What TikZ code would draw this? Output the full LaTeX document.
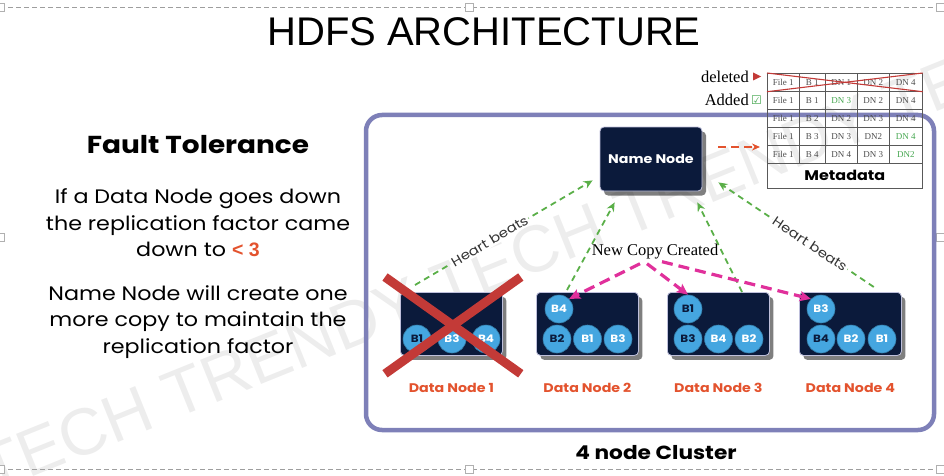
\documentclass[tikz,border=0pt]{standalone}
\usepackage{fontspec}
\setmainfont{Liberation Serif}
\newfontfamily\arialf{Liberation Sans}
\newfontfamily\gothf[FakeStretch=1.14]{Poppins}
\newfontfamily\symf{DejaVu Sans}
\usetikzlibrary{arrows.meta,shadows,calc}
\definecolor{navy}{HTML}{0B1A3B}
\definecolor{lav}{HTML}{7E80B8}
\definecolor{cblue}{HTML}{45A6E0}
\definecolor{hbgreen}{HTML}{5AAF48}
\definecolor{mag}{HTML}{E0309B}
\definecolor{ored}{HTML}{E3532E}
\definecolor{xred}{HTML}{C33A37}
\definecolor{dgreen}{HTML}{45A64F}
\definecolor{handle}{HTML}{B0B0B0}
\tikzset{
  dnbox/.style={rectangle, rounded corners=4pt, fill=navy, draw=lav!50!white, line width=0.8pt,
    minimum width=102pt, minimum height=63pt, inner sep=0pt,
    drop shadow={shadow xshift=4pt, shadow yshift=-4.5pt, opacity=0.5, fill=black}},
  nnbox/.style={dnbox, minimum width=102pt, minimum height=64pt, text=white,
    font=\gothf\bfseries\fontsize{12.5}{12.5}\selectfont},
  blk/.style={circle, fill=cblue, draw=cblue!75!black, line width=0.6pt, minimum size=28pt,
    inner sep=0pt, text=white, font=\gothf\bfseries\fontsize{10.5}{10.5}\selectfont},
  blkd/.style={blk, text=navy},
  hb/.style={draw=hbgreen, line width=1.8pt, dash pattern=on 6pt off 4.5pt,
    -{Stealth[length=9pt, width=8pt]}},
  hblabel/.style={sloped, fill=white, inner sep=1.5pt, text=black!80,
    font=\gothf\fontsize{13}{13}\selectfont},
  cp/.style={draw=mag, line width=3.2pt, dash pattern=on 11pt off 6pt,
    -{Stealth[length=11pt, width=10pt, inset=2pt]}},
  dnlabel/.style={text=ored, font=\gothf\bfseries\fontsize{12.5}{12.5}\selectfont},
  cell/.style={draw=black!65, line width=0.7pt, minimum height=18pt, inner sep=0pt,
    anchor=north west, text=black!70, font=\fontsize{9}{9}\selectfont},
  handlebox/.style={draw=handle, fill=white, line width=0.8pt, minimum size=8pt, inner sep=0pt},
}
\begin{document}
\begin{tikzpicture}[x=1pt,y=-1pt]
\useasboundingbox (0,0) rectangle (944,476);
% watermark
\begin{scope}
\clip (0,0) rectangle (944,476);
\node[rotate=22, anchor=base west, inner sep=0pt, text=black!7,
  font=\arialf\fontsize{66}{66}\selectfont] (wm) at (-9,494) {TECH TRENDY TECH TRENDY TECH};
\end{scope}
% slide frame
\draw[handle!90!black, line width=0.9pt, dash pattern=on 5pt off 3pt] (0,7) -- (940,7);
\draw[handle!90!black, line width=0.9pt, dash pattern=on 5pt off 3pt] (0,469) -- (940,469);
\foreach \hx/\hy/\hn in {0/7/a,469/7/b,940/7/c,0/237/d,940/237/e,0/469/f,469/469/g,940/469/h}
  \node[handlebox] (h\hn) at (\hx,\hy) {};
% title
\node[font=\arialf\fontsize{40}{40}\selectfont, inner sep=0pt] (title) at (484,32) {HDFS ARCHITECTURE};
% left text
\node[font=\gothf\bfseries\fontsize{24.5}{24.5}\selectfont, inner sep=0pt] (ft) at (198,145) {Fault Tolerance};
\node[font=\gothf\fontsize{19.5}{26.5}\selectfont, align=center, inner sep=0pt] (t1) at (198,223)
  {If a Data Node goes down\\the replication factor came\\down to \textcolor{ored}{\arialf\bfseries < 3}};
\node[font=\gothf\fontsize{19.5}{26.5}\selectfont, align=center, inner sep=0pt] (t2) at (198,322)
  {Name Node will create one\\more copy to maintain the\\replication factor};
% cluster box
\node[draw=lav, line width=4.5pt, rounded corners=16pt, minimum width=568pt, minimum height=315pt,
  inner sep=0pt] (cluster) at (650,272.5) {};
\node[font=\gothf\bfseries\fontsize{19}{19}\selectfont, inner sep=0pt] (clabel) at (656,453) {4 node Cluster};
% name node
\node[nnbox] (nn) at (651,159) {Name Node};
% data nodes
\node[dnbox, anchor=north west] (dn1) at (400,292) {};
\node[dnbox, anchor=north west] (dn2) at (536,292) {};
\node[dnbox, anchor=north west] (dn3) at (667,292) {};
\node[dnbox, anchor=north west] (dn4) at (799,292) {};
% blocks
\node[blkd] (dn1a) at ($(dn1.north west)+(17,47)$) {B1};
\node[blk]  (dn1b) at ($(dn1.north west)+(52,47)$) {B3};
\node[blk]  (dn1c) at ($(dn1.north west)+(86,47)$) {B4};
\node[blk]  (dn2t) at ($(dn2.north west)+(23,17)$) {B4};
\node[blkd] (dn2a) at ($(dn2.north west)+(21,47)$) {B2};
\node[blk]  (dn2b) at ($(dn2.north west)+(51.5,47)$) {B1};
\node[blk]  (dn2c) at ($(dn2.north west)+(82,47)$) {B3};
\node[blkd] (dn3t) at ($(dn3.north west)+(21,17)$) {B1};
\node[blkd] (dn3a) at ($(dn3.north west)+(21,47)$) {B3};
\node[blk]  (dn3b) at ($(dn3.north west)+(51.5,47)$) {B4};
\node[blk]  (dn3c) at ($(dn3.north west)+(82,47)$) {B2};
\node[blk]  (dn4t) at ($(dn4.north west)+(22,17)$) {B3};
\node[blkd] (dn4a) at ($(dn4.north west)+(22,47)$) {B4};
\node[blk]  (dn4b) at ($(dn4.north west)+(52,47)$) {B2};
\node[blk]  (dn4c) at ($(dn4.north west)+(83,47)$) {B1};
% red cross over data node 1
\draw[xred, line width=9pt] ($(dn1.north west)+(-15,-15)$) -- ($(dn1.south east)+(18,18)$);
\draw[xred, line width=9pt] ($(dn1.north east)+(18,-15)$) -- ($(dn1.south west)+(-15,18)$);
% data node labels
\node[dnlabel] (l1) at ($(dn1.south)+(0,32)$) {Data Node 1};
\node[dnlabel] (l2) at ($(dn2.south)+(0,32)$) {Data Node 2};
\node[dnlabel] (l3) at ($(dn3.south)+(0,32)$) {Data Node 3};
\node[dnlabel] (l4) at ($(dn4.south)+(0,32)$) {Data Node 4};
% heart beats
\draw[hb] ($(dn1.north west)+(15,-7)$) -- node[hblabel, pos=0.42] {Heart beats} ($(nn.south west)+(-7,-11)$);
\draw[hb] ($(dn2.north west)+(31,-2)$) -- ($(nn.south west)+(15,11)$);
\draw[hb] ($(dn3.north west)+(75,0)$) -- ($(nn.south east)+(-5,11)$);
\draw[hb] ($(dn4.north east)+(-28,-5)$) -- node[hblabel, pos=0.41] {Heart beats} ($(nn.south east)+(16,-9)$);
% new copy
\node[font=\fontsize{16.5}{16.5}\selectfont, inner sep=1pt] (ncc) at (655,252) {New Copy Created};
\draw[cp] ($(ncc.south)+(-15,3)$) -- (dn2t.north east);
\draw[cp] ($(ncc.south)+(-8,3)$) -- (dn3t.north);
\draw[cp] ($(ncc.south)+(7,1)$) -- (dn4t.north west);
% metadata table
\foreach \r/\y/\ca/\cb/\cc/\cd/\ce in {
  1/73/File 1/B 1/DN 1/DN 2/DN 4,
  2/91/File 1/B 1/\textcolor{dgreen}{DN 3}/DN 2/DN 4,
  3/109/File 1/B 2/DN 2/DN 3/DN 4,
  4/127/File 1/B 3/DN 3/DN2/\textcolor{dgreen}{DN 4},
  5/145/File 1/B 4/DN 4/DN 3/\textcolor{dgreen}{DN2}} {
  \node[cell, minimum width=32pt] (c-\r-1) at (767,\y) {\ca};
  \node[cell, minimum width=26pt] (c-\r-2) at (799,\y) {\cb};
  \node[cell, minimum width=32pt] (c-\r-3) at (825,\y) {\cc};
  \node[cell, minimum width=32pt] (c-\r-4) at (857,\y) {\cd};
  \node[cell, minimum width=33pt] (c-\r-5) at (889,\y) {\ce};
}
\node[cell, minimum width=155pt, minimum height=25pt, text=black,
  font=\gothf\bfseries\fontsize{14}{14}\selectfont] (meta) at (767,163) {Metadata};
\draw[xred, line width=1.1pt] (c-1-1.north west) -- (c-1-5.south east);
\draw[xred, line width=1.1pt] (c-1-1.south west) -- (c-1-5.north east);
\node[font=\fontsize{16.5}{16.5}\selectfont, anchor=east, inner sep=0pt] (del) at (749,77) {deleted};
\fill[xred] ($(del.east)+(4,-4.5)$) -- ($(del.east)+(12,-0.5)$) -- ($(del.east)+(4,3.5)$) -- cycle;
\node[font=\fontsize{16.5}{16.5}\selectfont, anchor=east, inner sep=0pt] (add) at (749,100) {Added};
\node[text=dgreen, font=\symf\fontsize{12}{12}\selectfont, inner sep=0pt, anchor=west] (chk) at ($(add.east)+(2,0)$) {☑};
% name node to metadata
\draw[ored, line width=2pt, dash pattern=on 8pt off 5pt, -{Stealth[length=8pt, width=7pt]}]
  ($(nn.east)+(16,-12)$) -- ($(c-5-1.north west)+(-7,2)$);
\end{tikzpicture}
\end{document}
